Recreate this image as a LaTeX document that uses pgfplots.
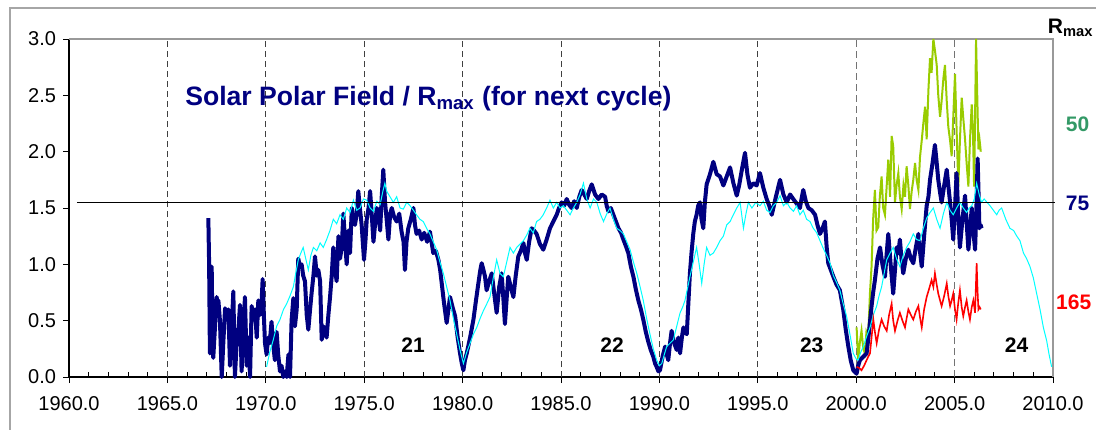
\documentclass[border=0pt]{standalone}
\usepackage{fontspec}
\setmainfont{Liberation Sans}
\setsansfont{Liberation Sans}
\usepackage{pgfplots}
\pgfplotsset{compat=1.18}
\definecolor{polnavy}{RGB}{0,0,128}
\definecolor{polcyan}{RGB}{0,255,255}
\definecolor{polgreen}{RGB}{153,204,0}
\definecolor{polred}{RGB}{255,0,0}
\definecolor{labgreen}{RGB}{51,153,102}

\begin{document}
\begin{tikzpicture}
\useasboundingbox (-34.5pt,-26pt) rectangle (513.5pt,188.5pt);
\draw[gray!70, line width=0.6pt] (-29.5pt,-40pt) -- (-29.5pt,184.5pt) -- (530pt,184.5pt);
\begin{axis}[
  scale only axis, width=492pt, height=169pt,
  xmin=1960, xmax=2010, ymin=0, ymax=3,
  axis x line*=bottom, axis y line*=left,
  axis line style={black, line width=0.6pt},
  xtick={1960,1965,...,2010}, ytick={0,0.5,...,3},
  minor x tick num=4,
  tick align=outside,
  major tick length=3pt, minor tick length=-2.5pt,
  tick style={black, line width=0.5pt},
  clip=false,
  tick label style={font=\fontsize{10}{12}\selectfont},
  /pgf/number format/assume math mode=true,
  x tick label style={yshift=-3pt, /pgf/number format/.cd, fixed, fixed zerofill, precision=1, 1000 sep={}},
  y tick label style={/pgf/number format/.cd, fixed, fixed zerofill, precision=1},
]
% cycle boundaries
\pgfplotsinvokeforeach{1965,1970,...,1995}{
  \draw[black!75, line width=0.5pt, dash pattern=on 3pt off 2pt] (axis cs:#1,0) -- (axis cs:#1,3);
}
\pgfplotsinvokeforeach{2000,2005}{
  \draw[black!55, line width=0.7pt, dash pattern=on 3.5pt off 2pt] (axis cs:#1,0) -- (axis cs:#1,3);
}
\draw[gray!80, line width=0.6pt] (rel axis cs:0,1) -- (rel axis cs:1,1) -- (rel axis cs:1,0);

% polar field scaled for Rmax = 50
\addplot[polgreen, line width=1pt] coordinates {
(2000.02,0.44)(2000.10,0.15)(2000.18,0.30)(2000.27,0.41)(2000.36,0.25)(2000.44,0.21)(2000.52,0.40)
(2000.61,0.36)(2000.70,0.75)(2000.78,0.98)(2000.86,1.40)(2000.95,1.66)(2001.03,1.30)(2001.12,1.33)
(2001.20,1.60)(2001.29,1.78)(2001.37,1.50)(2001.46,1.44)(2001.55,1.70)(2001.63,1.93)(2001.72,1.60)
(2001.80,2.14)(2001.88,2.05)(2001.97,1.55)(2002.05,1.70)(2002.14,1.81)(2002.22,1.60)(2002.31,1.49)
(2002.40,1.70)(2002.48,1.60)(2002.56,1.87)(2002.65,1.70)(2002.73,1.49)(2002.82,1.65)(2002.90,1.75)
(2002.99,1.90)(2003.07,1.75)(2003.16,1.66)(2003.24,1.95)(2003.33,2.10)(2003.41,2.25)(2003.50,2.40)
(2003.58,2.11)(2003.67,2.55)(2003.75,2.83)(2003.83,2.70)(2003.92,3.00)(2004.00,2.90)(2004.09,2.77)
(2004.17,2.50)(2004.26,2.31)(2004.34,2.45)(2004.43,2.65)(2004.51,2.77)(2004.60,2.45)(2004.68,2.22)
(2004.77,2.10)(2004.85,1.96)(2004.93,2.30)(2005.02,2.69)(2005.10,2.20)(2005.19,1.69)(2005.27,2.10)
(2005.36,2.48)(2005.44,2.30)(2005.53,2.11)(2005.61,1.90)(2005.70,1.69)(2005.78,2.10)(2005.87,2.42)
(2005.93,2.20)(2005.99,1.69)(2006.04,2.30)(2006.09,3.00)(2006.15,2.50)(2006.21,2.02)(2006.27,2.10)(2006.33,2.00)
};

% observed polar field (navy)
\addplot[polnavy, line width=2pt, line join=round] coordinates {
(1967.08,1.41)(1967.12,1.00)(1967.16,0.21)(1967.20,0.25)(1967.25,0.98)(1967.29,0.40)(1967.33,0.17)
(1967.42,0.45)(1967.50,0.71)(1967.55,0.66)(1967.59,0.68)(1967.67,0.50)(1967.76,0.00)(1967.84,0.30)
(1967.93,0.61)(1968.02,0.55)(1968.10,0.60)(1968.18,0.10)(1968.26,0.40)(1968.35,0.76)(1968.43,0.00)
(1968.52,0.30)(1968.60,0.40)(1968.69,0.64)(1968.77,0.05)(1968.85,0.35)(1968.94,0.71)(1969.03,0.10)
(1969.11,0.35)(1969.20,0.00)(1969.28,0.63)(1969.36,0.55)(1969.45,0.60)(1969.54,0.35)(1969.62,0.68)
(1969.70,0.55)(1969.77,0.60)(1969.84,0.87)(1969.90,0.55)(1969.96,0.30)(1970.04,0.20)(1970.12,0.35)
(1970.20,0.30)(1970.29,0.49)(1970.37,0.30)(1970.46,0.15)(1970.55,0.40)(1970.63,0.20)(1970.72,0.05)
(1970.80,0.10)(1970.89,0.00)(1970.98,0.05)(1971.06,0.00)(1971.15,0.20)(1971.23,0.00)(1971.31,0.50)
(1971.40,0.70)(1971.48,0.45)(1971.57,0.60)(1971.65,1.05)(1971.74,0.98)(1971.82,1.00)(1971.90,0.90)
(1971.99,0.85)(1972.08,0.55)(1972.16,0.42)(1972.25,0.60)(1972.33,0.75)(1972.42,0.90)(1972.50,1.07)
(1972.59,0.90)(1972.67,0.95)(1972.76,0.85)(1972.84,0.33)(1972.93,0.45)(1973.01,0.40)(1973.09,0.35)
(1973.18,0.55)(1973.26,0.70)(1973.35,0.90)(1973.43,1.15)(1973.52,0.95)(1973.60,0.85)(1973.69,1.25)
(1973.77,1.05)(1973.86,1.15)(1973.94,1.45)(1974.03,1.20)(1974.11,1.00)(1974.20,1.30)(1974.28,1.10)
(1974.37,1.50)(1974.45,1.40)(1974.53,1.35)(1974.62,1.45)(1974.70,1.65)(1974.78,1.50)(1974.87,1.35)
(1974.99,1.04)(1975.06,1.20)(1975.13,1.40)(1975.22,1.50)(1975.30,1.65)(1975.38,1.45)(1975.47,1.20)
(1975.55,1.35)(1975.64,1.50)(1975.72,1.45)(1975.81,1.30)(1975.89,1.60)(1975.97,1.84)(1976.06,1.55)
(1976.14,1.40)(1976.23,1.22)(1976.32,1.45)(1976.40,1.50)(1976.52,1.42)(1976.65,1.38)(1976.78,1.45)
(1976.90,1.29)(1977.00,1.20)(1977.07,0.95)(1977.15,1.20)(1977.24,1.32)(1977.37,1.40)(1977.50,1.50)
(1977.58,1.35)(1977.66,1.27)(1977.79,1.30)(1977.92,1.22)(1978.05,1.28)(1978.20,1.20)(1978.34,1.29)
(1978.42,1.20)(1978.51,1.10)(1978.64,1.12)(1978.77,1.04)(1978.86,0.95)(1978.94,0.83)(1979.06,0.65)
(1979.19,0.48)(1979.28,0.60)(1979.36,0.71)(1979.49,0.62)(1979.62,0.54)(1979.75,0.35)(1979.87,0.21)
(1979.96,0.12)(1980.04,0.06)(1980.12,0.15)(1980.21,0.21)(1980.38,0.35)(1980.55,0.51)(1980.68,0.68)
(1980.80,0.83)(1980.90,0.95)(1980.97,1.01)(1981.06,0.95)(1981.14,0.89)(1981.22,0.77)(1981.35,0.85)
(1981.48,0.92)(1981.60,0.75)(1981.73,0.57)(1981.86,0.80)(1981.98,0.92)(1982.07,0.70)(1982.15,0.47)
(1982.24,0.70)(1982.32,0.89)(1982.45,0.80)(1982.58,0.71)(1982.70,0.90)(1982.83,1.07)(1982.96,1.12)
(1983.09,1.19)(1983.17,1.10)(1983.26,1.04)(1983.38,1.20)(1983.51,1.32)(1983.63,1.30)(1983.76,1.27)
(1983.93,1.18)(1984.10,1.13)(1984.27,1.22)(1984.44,1.32)(1984.61,1.38)(1984.78,1.44)(1984.90,1.50)
(1985.03,1.55)(1985.16,1.52)(1985.29,1.58)(1985.41,1.53)(1985.54,1.50)(1985.67,1.56)(1985.80,1.50)
(1985.93,1.60)(1986.05,1.66)(1986.18,1.62)(1986.31,1.58)(1986.43,1.65)(1986.56,1.71)(1986.73,1.62)
(1986.90,1.58)(1987.07,1.62)(1987.24,1.60)(1987.32,1.52)(1987.41,1.47)(1987.53,1.50)(1987.66,1.44)
(1987.79,1.38)(1987.92,1.32)(1988.05,1.28)(1988.17,1.22)(1988.30,1.16)(1988.42,1.10)(1988.55,0.98)
(1988.68,0.89)(1988.80,0.78)(1988.93,0.68)(1989.06,0.60)(1989.18,0.51)(1989.31,0.40)(1989.44,0.31)
(1989.56,0.24)(1989.69,0.18)(1989.78,0.12)(1989.86,0.09)(1989.95,0.05)(1990.03,0.06)(1990.16,0.18)
(1990.29,0.27)(1990.37,0.20)(1990.45,0.15)(1990.54,0.30)(1990.62,0.41)(1990.75,0.30)(1990.88,0.24)
(1990.96,0.35)(1991.05,0.21)(1991.14,0.35)(1991.22,0.44)(1991.30,0.40)(1991.39,0.38)(1991.47,0.65)
(1991.55,0.92)(1991.63,1.10)(1991.72,1.27)(1991.80,1.38)(1991.89,1.44)(1991.97,1.52)(1992.06,1.55)
(1992.14,1.40)(1992.23,1.32)(1992.31,1.55)(1992.40,1.71)(1992.57,1.80)(1992.74,1.91)(1992.91,1.80)
(1993.08,1.78)(1993.25,1.70)(1993.42,1.78)(1993.59,1.86)(1993.76,1.72)(1993.93,1.61)(1994.05,1.70)
(1994.20,1.85)(1994.35,1.99)(1994.47,1.80)(1994.60,1.68)(1994.77,1.72)(1994.94,1.70)(1995.11,1.81)
(1995.28,1.68)(1995.45,1.58)(1995.58,1.52)(1995.71,1.44)(1995.92,1.60)(1996.13,1.75)(1996.30,1.62)
(1996.47,1.55)(1996.64,1.62)(1996.80,1.58)(1996.97,1.54)(1997.14,1.50)(1997.22,1.58)(1997.31,1.66)
(1997.44,1.56)(1997.57,1.50)(1997.74,1.48)(1997.91,1.44)(1998.03,1.35)(1998.16,1.27)(1998.29,1.32)
(1998.41,1.38)(1998.50,1.15)(1998.58,1.01)(1998.71,0.95)(1998.84,0.89)(1999.00,0.82)(1999.17,0.77)
(1999.26,0.68)(1999.34,0.60)(1999.47,0.42)(1999.60,0.27)(1999.72,0.15)(1999.85,0.06)(2000.02,0.03)
(2000.10,0.10)(2000.19,0.15)(2000.36,0.18)(2000.53,0.21)(2000.65,0.40)(2000.78,0.63)(2000.86,0.75)
(2000.95,0.86)(2001.08,1.05)(2001.21,1.15)(2001.33,1.00)(2001.46,0.89)(2001.55,1.10)(2001.63,1.27)
(2001.75,1.00)(2001.88,0.74)(2001.97,0.95)(2002.05,1.15)(2002.14,1.10)(2002.22,1.22)(2002.30,1.05)
(2002.39,0.92)(2002.52,1.05)(2002.65,1.13)(2002.78,1.05)(2002.90,1.01)(2003.03,1.15)(2003.16,1.27)
(2003.25,1.10)(2003.33,0.98)(2003.45,1.25)(2003.58,1.52)(2003.67,1.60)(2003.75,1.75)(2003.88,1.90)
(2004.00,2.06)(2004.09,1.90)(2004.17,1.75)(2004.25,1.65)(2004.34,1.55)(2004.47,1.70)(2004.60,1.84)
(2004.68,1.70)(2004.77,1.55)(2004.85,1.40)(2004.93,1.22)(2005.02,1.50)(2005.10,1.81)(2005.18,1.45)
(2005.27,1.15)(2005.40,1.40)(2005.53,1.61)(2005.62,1.35)(2005.70,1.13)(2005.78,1.30)(2005.87,1.50)
(2005.95,1.30)(2006.04,1.13)(2006.10,1.45)(2006.17,1.94)(2006.22,1.60)(2006.26,1.32)(2006.32,1.35)(2006.37,1.32)
};

% predicted / smoothed field (cyan)
\addplot[polcyan, line width=0.5pt] coordinates {
(1970.04,0.09)(1970.20,0.22)(1970.38,0.33)(1970.55,0.45)(1970.72,0.51)(1970.90,0.60)(1971.06,0.65)
(1971.23,0.72)(1971.40,0.80)(1971.52,0.92)(1971.65,1.04)(1971.78,1.10)(1971.90,1.15)(1972.03,1.05)
(1972.16,0.95)(1972.29,1.08)(1972.42,1.15)(1972.59,1.12)(1972.76,1.19)(1972.92,1.15)(1973.09,1.22)
(1973.26,1.30)(1973.43,1.40)(1973.60,1.36)(1973.77,1.44)(1973.94,1.40)(1974.11,1.50)(1974.28,1.46)
(1974.45,1.57)(1974.62,1.48)(1974.79,1.50)(1974.96,1.58)(1975.13,1.57)(1975.30,1.50)(1975.47,1.47)
(1975.64,1.56)(1975.81,1.53)(1975.95,1.65)(1976.05,1.72)(1976.14,1.65)(1976.31,1.60)(1976.48,1.55)
(1976.65,1.60)(1976.82,1.50)(1976.99,1.49)(1977.16,1.55)(1977.33,1.52)(1977.50,1.48)(1977.66,1.44)
(1977.83,1.40)(1978.00,1.38)(1978.17,1.32)(1978.34,1.27)(1978.51,1.20)(1978.68,1.13)(1978.85,1.02)
(1979.02,0.92)(1979.19,0.80)(1979.36,0.68)(1979.53,0.52)(1979.70,0.38)(1979.87,0.24)(1980.04,0.12)
(1980.21,0.22)(1980.38,0.30)(1980.55,0.38)(1980.72,0.44)(1980.89,0.52)(1981.06,0.59)(1981.23,0.65)
(1981.39,0.71)(1981.56,0.88)(1981.73,1.04)(1981.90,0.92)(1982.07,0.89)(1982.24,1.02)(1982.41,1.15)
(1982.58,1.10)(1982.75,1.15)(1982.92,1.18)(1983.09,1.21)(1983.26,1.26)(1983.42,1.32)(1983.59,1.28)
(1983.76,1.38)(1983.93,1.40)(1984.10,1.44)(1984.27,1.50)(1984.44,1.57)(1984.61,1.50)(1984.78,1.55)
(1984.95,1.50)(1985.12,1.52)(1985.29,1.48)(1985.46,1.44)(1985.63,1.50)(1985.80,1.55)(1985.97,1.62)
(1986.14,1.72)(1986.31,1.58)(1986.48,1.50)(1986.65,1.58)(1986.82,1.55)(1986.99,1.45)(1987.16,1.38)
(1987.33,1.45)(1987.49,1.50)(1987.66,1.40)(1987.83,1.32)(1988.00,1.30)(1988.17,1.27)(1988.34,1.20)
(1988.51,1.13)(1988.68,1.02)(1988.85,0.92)(1989.02,0.80)(1989.18,0.68)(1989.35,0.52)(1989.52,0.38)
(1989.69,0.25)(1989.86,0.15)(1990.00,0.10)(1990.12,0.12)(1990.25,0.20)(1990.37,0.27)(1990.54,0.30)
(1990.71,0.33)(1990.88,0.45)(1991.05,0.57)(1991.18,0.62)(1991.30,0.68)(1991.42,0.78)(1991.55,0.89)
(1991.72,1.02)(1991.89,1.15)(1992.02,1.00)(1992.15,0.83)(1992.27,1.00)(1992.40,1.15)(1992.57,1.08)
(1992.74,1.10)(1992.91,1.15)(1993.08,1.21)(1993.25,1.25)(1993.42,1.35)(1993.59,1.38)(1993.76,1.44)
(1993.93,1.50)(1994.10,1.55)(1994.27,1.32)(1994.40,1.45)(1994.52,1.55)(1994.70,1.50)(1994.90,1.55)
(1995.11,1.52)(1995.28,1.56)(1995.45,1.48)(1995.62,1.46)(1995.79,1.52)(1995.96,1.55)(1996.13,1.61)
(1996.30,1.52)(1996.47,1.55)(1996.64,1.50)(1996.81,1.47)(1996.97,1.52)(1997.14,1.44)(1997.31,1.48)
(1997.48,1.40)(1997.65,1.38)(1997.82,1.32)(1997.99,1.28)(1998.16,1.21)(1998.33,1.14)(1998.50,1.08)
(1998.67,1.01)(1998.84,0.90)(1999.00,0.84)(1999.17,0.77)(1999.34,0.65)(1999.51,0.54)(1999.68,0.38)
(1999.85,0.21)(2000.00,0.16)(2000.10,0.15)(2000.23,0.22)(2000.36,0.27)(2000.53,0.36)(2000.70,0.44)
(2000.87,0.55)(2001.04,0.63)(2001.16,0.72)(2001.29,0.80)(2001.42,0.92)(2001.55,1.04)(2001.72,1.10)
(2001.88,1.15)(2002.05,1.05)(2002.22,0.98)(2002.39,1.08)(2002.56,1.15)(2002.73,1.20)(2002.90,1.27)
(2003.07,1.22)(2003.24,1.21)(2003.41,1.32)(2003.58,1.41)(2003.75,1.46)(2003.92,1.50)(2004.09,1.40)
(2004.26,1.32)(2004.43,1.45)(2004.60,1.55)(2004.77,1.48)(2004.93,1.44)(2005.10,1.50)(2005.27,1.55)
(2005.44,1.50)(2005.61,1.46)(2005.74,1.50)(2005.87,1.52)(2006.00,1.58)(2006.12,1.72)(2006.25,1.62)
(2006.37,1.55)(2006.50,1.58)(2006.65,1.55)(2006.80,1.52)(2006.97,1.48)(2007.14,1.44)(2007.26,1.48)
(2007.39,1.50)(2007.60,1.40)(2007.81,1.32)(2008.00,1.30)(2008.16,1.25)(2008.32,1.21)(2008.50,1.10)
(2008.66,1.05)(2008.83,0.98)(2009.00,0.88)(2009.17,0.74)(2009.34,0.60)(2009.51,0.44)(2009.68,0.32)
(2009.80,0.20)(2009.93,0.09)
};

% polar field scaled for Rmax = 165
\addplot[polred, line width=0.8pt] coordinates {
(2000.02,0.09)(2000.15,0.08)(2000.27,0.06)(2000.40,0.10)(2000.53,0.15)(2000.61,0.18)(2000.70,0.21)
(2000.78,0.35)(2000.87,0.51)(2000.95,0.40)(2001.04,0.30)(2001.16,0.42)(2001.29,0.51)(2001.42,0.45)
(2001.55,0.41)(2001.67,0.55)(2001.80,0.65)(2001.88,0.50)(2001.97,0.41)(2002.10,0.50)(2002.22,0.57)
(2002.35,0.50)(2002.48,0.44)(2002.56,0.52)(2002.65,0.60)(2002.78,0.55)(2002.90,0.51)(2003.03,0.58)
(2003.16,0.63)(2003.25,0.52)(2003.33,0.44)(2003.45,0.60)(2003.58,0.71)(2003.70,0.78)(2003.83,0.86)
(2003.92,0.80)(2004.00,0.92)(2004.09,0.82)(2004.17,0.74)(2004.26,0.68)(2004.34,0.63)(2004.47,0.72)
(2004.60,0.83)(2004.68,0.72)(2004.77,0.63)(2004.85,0.68)(2004.93,0.74)(2005.02,0.60)(2005.10,0.51)
(2005.18,0.65)(2005.27,0.77)(2005.36,0.62)(2005.44,0.54)(2005.53,0.62)(2005.61,0.68)(2005.70,0.58)
(2005.78,0.51)(2005.87,0.62)(2005.95,0.68)(2006.00,0.62)(2006.04,0.57)(2006.08,0.80)(2006.12,1.01)
(2006.17,0.75)(2006.21,0.60)(2006.27,0.62)(2006.33,0.60)
};

% Rmax = 75 reference level
\addplot[black, line width=0.5pt] coordinates {(1960.4,1.553)(2010.1,1.553)};

\node[anchor=west, text=polnavy, font=\bfseries\fontsize{13.3}{16}\selectfont]
  at (axis cs:1965.55,2.47) {Solar Polar Field / R\textsubscript{max} (for next cycle)};

\node[font=\bfseries\fontsize{10.5}{12}\selectfont] at (axis cs:1977.48,0.28) {21};
\node[font=\bfseries\fontsize{10.5}{12}\selectfont] at (axis cs:1987.60,0.28) {22};
\node[font=\bfseries\fontsize{10.5}{12}\selectfont] at (axis cs:1997.74,0.28) {23};
\node[font=\bfseries\fontsize{10.5}{12}\selectfont] at (axis cs:2008.15,0.28) {24};

\node[font=\bfseries\fontsize{10.5}{12}\selectfont] at (axis cs:2010.90,3.10) {R\textsubscript{max}};
\node[text=labgreen, font=\bfseries\fontsize{10.5}{12}\selectfont] at (axis cs:2011.25,2.245) {50};
\node[text=polnavy, font=\bfseries\fontsize{10.5}{12}\selectfont] at (axis cs:2011.25,1.54) {75};
\node[text=polred, font=\bfseries\fontsize{10.5}{12}\selectfont] at (axis cs:2011.05,0.66) {165};
\end{axis}
\end{tikzpicture}
\end{document}
